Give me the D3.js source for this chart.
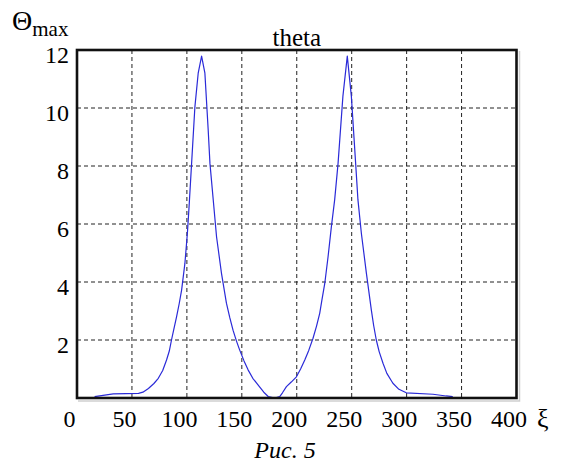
<!DOCTYPE html>
<html><head><meta charset="utf-8">
<script src="https://cdn.jsdelivr.net/npm/d3@7"></script>
<style>
html,body{margin:0;padding:0;background:#fff;}
svg{display:block;}
text{font-family:"Liberation Serif","Times New Roman",serif;fill:#000;}
</style></head>
<body>
<script>
// ---- data ----
const xiValues = [16,33,56,60,65,70,74,78,81.5,84,86,88,90.6,93,95.2,98.2,100.5,102,104.3,107.3,110.3,113.4,116.4,119.4,121,124,127,131.5,136,139,142,145,148,152,155.7,160,166,170,174,180,184.5,187,190.6,195,199.7,203.5,207.3,211,214.8,218,220.9,223,225.5,228.5,231.5,234.5,237.6,242,246,249.7,253.6,255.7,258.8,263.4,267.9,270,272.4,275,278.5,282,287.5,293,299.7,324,336,342];
const thetaValues = [0.05,0.14,0.16,0.2,0.33,0.5,0.68,0.95,1.31,1.62,2.0,2.35,2.8,3.25,3.72,4.64,5.7,6.6,8.09,10.04,11.2,11.79,11.2,9.24,8.09,6.83,5.56,4.3,3.27,2.78,2.34,1.98,1.66,1.28,0.97,0.68,0.39,0.2,0.05,0.0,0.05,0.18,0.39,0.55,0.73,1.0,1.31,1.65,2.06,2.48,2.92,3.4,3.95,4.87,5.9,6.83,8.09,10.4,11.79,10.4,8.09,6.83,5.68,4.3,3.03,2.5,2.0,1.6,1.2,0.85,0.51,0.3,0.18,0.13,0.07,0.05];
const xTicks = [0,50,100,150,200,250,300,350,400];
const yTicks = [2,4,6,8,10,12];
const titleText = "theta";
const captionText = "Рис. 5";

// ---- layout ----
const W = 563, H = 466;
const L = 77, R = 516.5, T = 50, B = 398;

const svg = d3.select("body").append("svg").attr("width", W).attr("height", H);

const x = d3.scaleLinear().domain([0, 400]).range([L, R]);
const y = d3.scaleLinear().domain([0, 12]).range([B, T]);

// grid
const grid = svg.append("g");
grid.selectAll("line.v").data(xTicks.filter(d => d > 0 && d < 400)).join("line")
  .attr("x1", d => x(d)).attr("x2", d => x(d)).attr("y1", T).attr("y2", B)
  .attr("stroke", "#222").attr("stroke-width", 1).attr("stroke-dasharray", "4,3");
grid.selectAll("line.h").data(yTicks.filter(d => d < 12)).join("line")
  .attr("x1", L).attr("x2", R).attr("y1", d => y(d)).attr("y2", d => y(d))
  .attr("stroke", "#222").attr("stroke-width", 1).attr("stroke-dasharray", "4,3");

// curve
const pts = xiValues.map((v, i) => [v, thetaValues[i]]);
svg.append("path").datum(pts)
  .attr("d", d3.line().x(d => x(d[0])).y(d => y(d[1])))
  .attr("fill", "none").attr("stroke", "#2a2ad8").attr("stroke-width", 1.2)
  .attr("stroke-linejoin", "round");

// shadow
svg.append("path")
  .attr("d", `M${L+1},${B+3} H${R+3} V${T+1}`)
  .attr("fill", "none").attr("stroke", "#cfcfcf").attr("stroke-width", 1.5);

// frame
svg.append("rect").attr("x", L).attr("y", T).attr("width", R - L).attr("height", B - T)
  .attr("fill", "none").attr("stroke", "#111").attr("stroke-width", 2.6);

// axes labels via d3 axes (lines hidden)
const xAxis = svg.append("g").attr("transform", `translate(-8,${B})`)
  .call(d3.axisBottom(x).tickValues(xTicks).tickSize(0).tickPadding(0).tickFormat(d3.format("d")));
xAxis.select(".domain").remove();
xAxis.selectAll("text").attr("font-size", 24).attr("dy", null).attr("y", 29)
  .style("font-family", '"Liberation Serif","Times New Roman",serif').attr("fill", "#000");

const yAxis = svg.append("g").attr("transform", `translate(${L - 8},0)`)
  .call(d3.axisLeft(y).tickValues(yTicks).tickSize(0).tickPadding(0).tickFormat(d3.format("d")));
yAxis.select(".domain").remove();
yAxis.selectAll("text").attr("font-size", 24).attr("dy", null).attr("y", 12).attr("x", 0)
  .style("font-family", '"Liberation Serif","Times New Roman",serif').attr("fill", "#000");

// title
svg.append("text").attr("x", (L + R) / 2).attr("y", 46).attr("text-anchor", "middle")
  .attr("font-size", 25).text(titleText);

// y label Θ_max
const yl = svg.append("text").attr("x", 12).attr("y", 30).attr("font-size", 28);
yl.append("tspan").text("Θ");
yl.append("tspan").attr("font-size", 21).attr("dy", 6).text("max");

// x label ξ
svg.append("text").attr("x", 537).attr("y", 427).attr("font-size", 26).text("ξ");

// caption
svg.append("text").attr("x", 285).attr("y", 458).attr("text-anchor", "middle")
  .attr("font-size", 24).attr("font-style", "italic").text(captionText);
</script>
</body></html>
